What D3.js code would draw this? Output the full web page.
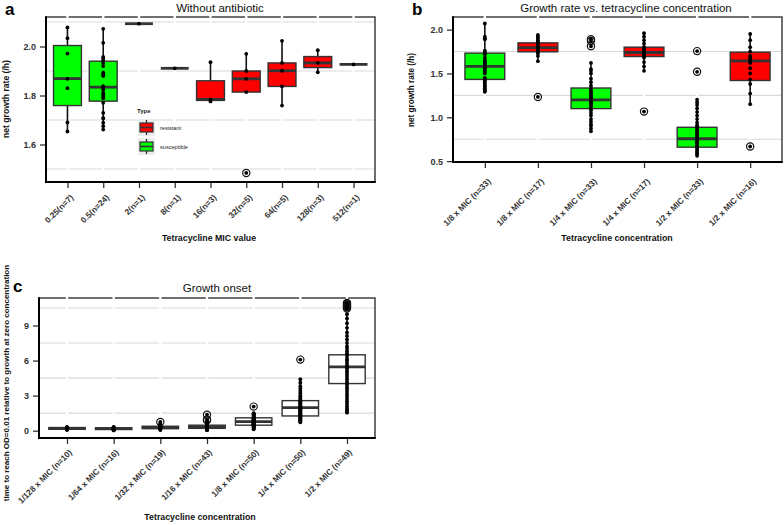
<!DOCTYPE html>
<html><head><meta charset="utf-8">
<script src="https://cdn.jsdelivr.net/npm/d3@7"></script>
<style>body{margin:0;background:#fff;} svg{display:block;font-family:"Liberation Sans",Arial,sans-serif;}</style>
</head><body><svg id="chart" width="784" height="525"></svg>
<script>
// ---------- Panel a: Without antibiotic ----------
const aCategories = ["0.25(n=7)","0.5(n=24)","2(n=1)","8(n=1)","16(n=3)","32(n=5)","64(n=5)","128(n=3)","512(n=1)"];
const aTypes = ["susceptible","susceptible","susceptible","susceptible","resistant","resistant","resistant","resistant","resistant"];
const aLow    = [1.653,1.661,2.093,1.911,1.776,1.814,1.759,1.895,1.927];
const aQ1     = [1.759,1.777,2.093,1.911,1.780,1.814,1.837,1.914,1.927];
const aMedian = [1.869,1.834,2.093,1.911,1.784,1.868,1.901,1.933,1.927];
const aQ3     = [2.004,1.940,2.093,1.911,1.860,1.900,1.933,1.959,1.927];
const aHigh   = [2.078,2.072,2.093,1.911,1.936,1.970,2.023,1.985,1.927];
const aPoints = [
  [2.078,2.034,1.971,1.868,1.830,1.690,1.653],
  [2.072,2.015,1.958,1.951,1.943,1.933,1.920,1.893,1.886,1.880,1.838,1.831,1.824,1.811,1.804,1.797,1.789,1.770,1.729,1.709,1.706,1.689,1.675,1.661],
  [2.093],[1.911],
  [1.936,1.784,1.776],
  [1.970,1.900,1.868,1.814,1.484],
  [2.023,1.933,1.901,1.837,1.759],
  [1.985,1.933,1.895],
  [1.927]
];
const aOutliers = [[],[],[],[],[],[1.484],[],[],[]];
const aYTicks = [1.6,1.8,2.0];
const aGrid = [1.5,1.7,1.9,2.1];

// ---------- Panel b: Growth rate vs. tetracycline concentration ----------
const bCategories = ["1/8 x MIC (n=33)","1/8 x MIC (n=17)","1/4 x MIC (n=33)","1/4 x MIC (n=17)","1/2 x MIC (n=33)","1/2 x MIC (n=16)"];
const bTypes = ["susceptible","resistant","susceptible","resistant","susceptible","resistant"];
const bLow    = [1.292,1.644,0.838,1.531,0.557,1.152];
const bQ1     = [1.432,1.747,1.099,1.693,0.659,1.420];
const bMedian = [1.580,1.795,1.198,1.739,0.755,1.644];
const bQ3     = [1.732,1.849,1.334,1.800,0.886,1.743];
const bHigh   = [2.073,1.943,1.618,1.959,1.201,1.951];
const bPoints = [
  [2.07,1.92,1.90,1.89,1.76,1.74,1.73,1.72,1.68,1.65,1.63,1.62,1.60,1.59,1.58,1.58,1.57,1.56,1.54,1.52,1.50,1.45,1.44,1.43,1.42,1.40,1.38,1.36,1.35,1.33,1.31,1.30,1.29],
  [1.94,1.92,1.90,1.88,1.86,1.85,1.83,1.81,1.80,1.79,1.78,1.76,1.75,1.73,1.70,1.64,1.232],
  [1.89,1.87,1.81,1.62,1.55,1.53,1.50,1.44,1.40,1.36,1.33,1.31,1.29,1.27,1.25,1.23,1.21,1.20,1.19,1.18,1.16,1.14,1.12,1.10,1.08,1.05,1.02,0.98,0.95,0.92,0.90,0.87,0.84],
  [1.96,1.92,1.88,1.84,1.80,1.79,1.77,1.75,1.74,1.73,1.71,1.70,1.68,1.63,1.58,1.53,1.065],
  [1.755,1.519,1.20,1.17,1.14,1.10,1.06,1.02,0.98,0.94,0.91,0.89,0.87,0.85,0.83,0.81,0.79,0.77,0.76,0.75,0.74,0.72,0.71,0.70,0.68,0.67,0.66,0.65,0.63,0.61,0.59,0.58,0.56],
  [1.95,1.88,1.80,1.75,1.70,1.68,1.66,1.64,1.62,1.56,1.50,1.43,1.38,1.27,1.15,0.667]
];
const bOutliers = [[],[1.232],[1.89,1.87,1.81],[1.065],[1.755,1.519],[0.667]];
const bYTicks = [0.5,1.0,1.5,2.0];
const bGrid = [0.75,1.25,1.75];

// ---------- Panel c: Growth onset ----------
const cCategories = ["1/128 x MIC (n=10)","1/64 x MIC (n=16)","1/32 x MIC (n=19)","1/16 x MIC (n=43)","1/8 x MIC (n=50)","1/4 x MIC (n=50)","1/2 x MIC (n=49)"];
const cLow    = [0.05,0.02,0.05,0.04,0.12,0.72,1.54];
const cQ1     = [0.12,0.10,0.17,0.20,0.47,1.26,4.03];
const cMedian = [0.19,0.17,0.28,0.32,0.77,1.97,5.46];
const cQ3     = [0.27,0.25,0.38,0.47,1.10,2.57,6.49];
const cHigh   = [0.32,0.33,0.60,0.78,1.50,4.40,9.97];
const cPoints = [
  [0.05,0.10,0.12,0.15,0.18,0.19,0.20,0.24,0.27,0.32],
  [0.02,0.04,0.06,0.08,0.10,0.12,0.14,0.15,0.17,0.18,0.20,0.22,0.25,0.27,0.30,0.33],
  [0.75,0.05,0.10,0.15,0.20,0.22,0.24,0.26,0.28,0.30,0.31,0.33,0.35,0.38,0.40,0.42,0.48,0.55,0.60],
  [1.37,0.95,0.88,0.78,0.72,0.66,0.60,0.55,0.50,0.47,0.45,0.44,0.42,0.40,0.39,0.38,0.37,0.36,0.35,0.34,0.33,0.32,0.32,0.31,0.30,0.29,0.28,0.27,0.26,0.25,0.24,0.23,0.22,0.21,0.20,0.18,0.16,0.14,0.12,0.10,0.08,0.06,0.04],
  [2.06,1.50,1.45,1.40,1.35,1.30,1.25,1.20,1.16,1.12,1.08,1.06,1.04,1.02,1.00,0.98,0.95,0.92,0.90,0.88,0.86,0.84,0.82,0.80,0.78,0.77,0.76,0.74,0.72,0.70,0.68,0.66,0.64,0.62,0.60,0.58,0.56,0.54,0.52,0.50,0.49,0.47,0.44,0.40,0.36,0.32,0.28,0.22,0.17,0.12],
  [6.08,4.40,4.10,3.80,3.60,3.40,3.20,3.00,2.90,2.80,2.70,2.60,2.55,2.50,2.45,2.40,2.35,2.30,2.20,2.15,2.10,2.05,2.00,1.97,1.93,1.90,1.86,1.82,1.78,1.74,1.70,1.65,1.60,1.55,1.50,1.45,1.40,1.35,1.30,1.26,1.22,1.18,1.12,1.06,1.00,0.95,0.90,0.85,0.78,0.72],
  [10.92,10.85,10.78,10.70,10.62,10.55,10.45,9.97,9.60,9.20,8.80,8.40,8.10,7.80,7.50,7.20,7.00,6.80,6.60,6.50,6.30,6.10,6.00,5.80,5.60,5.50,5.40,5.30,5.10,5.00,4.80,4.60,4.40,4.20,4.05,3.90,3.70,3.50,3.30,3.10,2.90,2.70,2.50,2.30,2.10,1.90,1.75,1.60,1.54]
];
const cOutliers = [[],[],[0.75],[1.37,0.95,0.88],[2.06],[6.08],[10.92,10.85,10.78,10.70,10.62,10.55,10.45]];
const cYTicks = [0,3,6,9];
const cGrid = [1.5,4.5,7.5,10.5];

const typeColor = {resistant:"#ff0000", susceptible:"#00ff00"};
const legendTypes = ["resistant","susceptible"];

const svg = d3.select("#chart");
const FONT = '"Liberation Sans",Arial,sans-serif';

function panel(cfg){
  const g = svg.append("g");
  const x = d3.scalePoint().domain(cfg.categories).range([cfg.left, cfg.right]).padding(0.6);
  const y = d3.scaleLinear().domain(cfg.yDomain).range([cfg.bottom, cfg.top]);
  // grid
  g.selectAll("line.grid").data(cfg.grid).join("line")
    .attr("x1",cfg.left).attr("x2",cfg.right)
    .attr("y1",d=>y(d)).attr("y2",d=>y(d))
    .attr("stroke","#d9d9d9").attr("stroke-width",1.1);
  // border
  g.append("rect").attr("x",cfg.left).attr("y",cfg.top)
    .attr("width",cfg.right-cfg.left).attr("height",cfg.bottom-cfg.top)
    .attr("fill","none").attr("stroke","#333").attr("stroke-width",1.4);
  // white vertical grid
  g.selectAll("line.vg").data(cfg.categories).join("line")
    .attr("x1",d=>x(d)).attr("x2",d=>x(d))
    .attr("y1",cfg.top-1.5).attr("y2",cfg.bottom-2)
    .attr("stroke","#fff").attr("stroke-width",2.4);
  // axis lines (left & bottom)
  g.append("line").attr("x1",cfg.left).attr("x2",cfg.left).attr("y1",cfg.top-0.7).attr("y2",cfg.bottom+1)
    .attr("stroke","#000").attr("stroke-width",2);
  g.append("line").attr("x1",cfg.left).attr("x2",cfg.right+0.7).attr("y1",cfg.bottom).attr("y2",cfg.bottom)
    .attr("stroke","#000").attr("stroke-width",2);

  const bw = x.step()*cfg.boxFrac;
  cfg.categories.forEach((c,i)=>{
    const cx = x(c);
    const fill = cfg.types ? typeColor[cfg.types[i]] : "#fff";
    // whiskers
    g.append("line").attr("x1",cx).attr("x2",cx).attr("y1",y(cfg.high[i])).attr("y2",y(cfg.q3[i]))
      .attr("stroke","#111").attr("stroke-width",1.6);
    g.append("line").attr("x1",cx).attr("x2",cx).attr("y1",y(cfg.q1[i])).attr("y2",y(cfg.low[i]))
      .attr("stroke","#111").attr("stroke-width",1.6);
    // box
    g.append("rect").attr("x",cx-bw/2).attr("y",y(cfg.q3[i]))
      .attr("width",bw).attr("height",Math.max(0,y(cfg.q1[i])-y(cfg.q3[i])))
      .attr("fill",fill).attr("stroke","#333").attr("stroke-width",1.4);
    g.append("line").attr("x1",cx-bw/2).attr("x2",cx+bw/2)
      .attr("y1",y(cfg.median[i])).attr("y2",y(cfg.median[i]))
      .attr("stroke","#333").attr("stroke-width",2.8);
    // outliers (hollow circles)
    g.selectAll(null).data(cfg.outliers[i]).join("circle")
      .attr("cx",cx).attr("cy",d=>y(d)).attr("r",3.6)
      .attr("fill","none").attr("stroke","#111").attr("stroke-width",1.2);
    // points
    g.selectAll(null).data(cfg.points[i]).join("circle")
      .attr("cx",cx).attr("cy",d=>y(d)).attr("r",1.9).attr("fill","#000");
  });

  // y axis
  const ya = g.append("g").attr("transform",`translate(${cfg.left-1},0)`)
    .call(d3.axisLeft(y).tickValues(cfg.yTicks).tickSize(5).tickPadding(4).tickFormat(cfg.yFormat));
  ya.select(".domain").remove();
  ya.selectAll(".tick line").attr("stroke","#333").attr("stroke-width",1.3);
  ya.selectAll(".tick text").attr("fill","#333").style("font-family",FONT).style("font-weight","bold").style("font-size","9px");

  // x axis
  const xa = g.append("g").attr("transform",`translate(0,${cfg.bottom+1})`)
    .call(d3.axisBottom(x).tickSize(5).tickPadding(0));
  xa.select(".domain").remove();
  xa.selectAll(".tick line").attr("stroke","#333").attr("stroke-width",1.3);
  xa.selectAll(".tick text").attr("fill","#333").style("font-family",FONT).style("font-weight","bold")
    .style("font-size","8.3px").attr("text-anchor","end").attr("y",0).attr("dy",0)
    .attr("transform",`translate(${cfg.lblDx},${cfg.lblDy}) rotate(-45)`);

  // titles
  svg.append("text").attr("x",cfg.titleX).attr("y",cfg.titleY).attr("text-anchor","middle")
    .style("font-family",FONT).style("font-size","11.5px").attr("fill","#111").text(cfg.title);
  svg.append("text").attr("x",cfg.xTitleX).attr("y",cfg.xTitleY).attr("text-anchor","middle")
    .style("font-family",FONT).style("font-size","8.8px").style("font-weight","bold").attr("fill","#111").text(cfg.xTitle);
  svg.append("text").attr("transform",`translate(${cfg.yTitleX},${cfg.yTitleY}) rotate(-90)`).attr("text-anchor","middle")
    .style("font-family",FONT).style("font-size",cfg.yTitleSize).style("font-weight","bold").attr("fill","#111").text(cfg.yTitle);
  svg.append("text").attr("x",cfg.tagX).attr("y",cfg.tagY)
    .style("font-family",FONT).style("font-size","17px").style("font-weight","bold").attr("fill","#000").text(cfg.tag);
  return {x,y,g};
}

const pa = panel({categories:aCategories, types:aTypes, low:aLow, q1:aQ1, median:aMedian, q3:aQ3, high:aHigh,
  points:aPoints, outliers:aOutliers, yTicks:aYTicks, grid:aGrid, yFormat:d3.format(".1f"),
  left:46, right:375, top:17, bottom:182, yDomain:[1.447,2.1204], boxFrac:0.78,
  lblDx:6, lblDy:15, title:"Without antibiotic", titleX:220, titleY:12,
  xTitle:"Tetracycline MIC value", xTitleX:209, xTitleY:241,
  yTitle:"net growth rate (/h)", yTitleX:9, yTitleY:99, yTitleSize:"8.6px", tag:"a", tagX:5, tagY:15});

const pb = panel({categories:bCategories, types:bTypes, low:bLow, q1:bQ1, median:bMedian, q3:bQ3, high:bHigh,
  points:bPoints, outliers:bOutliers, yTicks:bYTicks, grid:bGrid, yFormat:d3.format(".1f"),
  left:453, right:782, top:17, bottom:162, yDomain:[0.49,2.144], boxFrac:0.75,
  lblDx:6, lblDy:19, title:"Growth rate vs. tetracycline concentration", titleX:626, titleY:12,
  xTitle:"Tetracycline concentration", xTitleX:617, xTitleY:241,
  yTitle:"net growth rate (/h)", yTitleX:414, yTitleY:90, yTitleSize:"8.2px", tag:"b", tagX:412, tagY:15});

const pc = panel({categories:cCategories, types:null, low:cLow, q1:cQ1, median:cMedian, q3:cQ3, high:cHigh,
  points:cPoints, outliers:cOutliers, yTicks:cYTicks, grid:cGrid, yFormat:d3.format("d"),
  left:39, right:375, top:298, bottom:438, yDomain:[-0.626,11.35], boxFrac:0.78,
  lblDx:5, lblDy:14, title:"Growth onset", titleX:217, titleY:292,
  xTitle:"Tetracycline concentration", xTitleX:200, xTitleY:520,
  yTitle:"time to reach OD=0.01 relative to growth at zero concentration", yTitleX:9, yTitleY:383, yTitleSize:"8px", tag:"c", tagX:13, tagY:292});

// legend in panel a
const lg = svg.append("g");
lg.append("text").attr("x",137).attr("y",113).style("font-family",FONT).style("font-size","6px")
  .style("font-weight","bold").attr("fill","#222").text("Type");
legendTypes.forEach((t,i)=>{
  const ky = 119 + i*19;
  lg.append("rect").attr("x",138).attr("y",ky).attr("width",17).attr("height",17).attr("fill","#ececec");
  lg.append("line").attr("x1",146.5).attr("x2",146.5).attr("y1",ky+1).attr("y2",ky+16).attr("stroke","#222").attr("stroke-width",1.2);
  lg.append("rect").attr("x",140).attr("y",ky+4).attr("width",13).attr("height",9)
    .attr("fill",typeColor[t]).attr("stroke","#333").attr("stroke-width",1.2);
  lg.append("line").attr("x1",140).attr("x2",153).attr("y1",ky+8.5).attr("y2",ky+8.5).attr("stroke","#333").attr("stroke-width",1.6);
  lg.append("text").attr("x",160).attr("y",ky+10.5).style("font-family",FONT).style("font-size","5.6px").attr("fill","#222").text(t);
});
</script></body></html>
